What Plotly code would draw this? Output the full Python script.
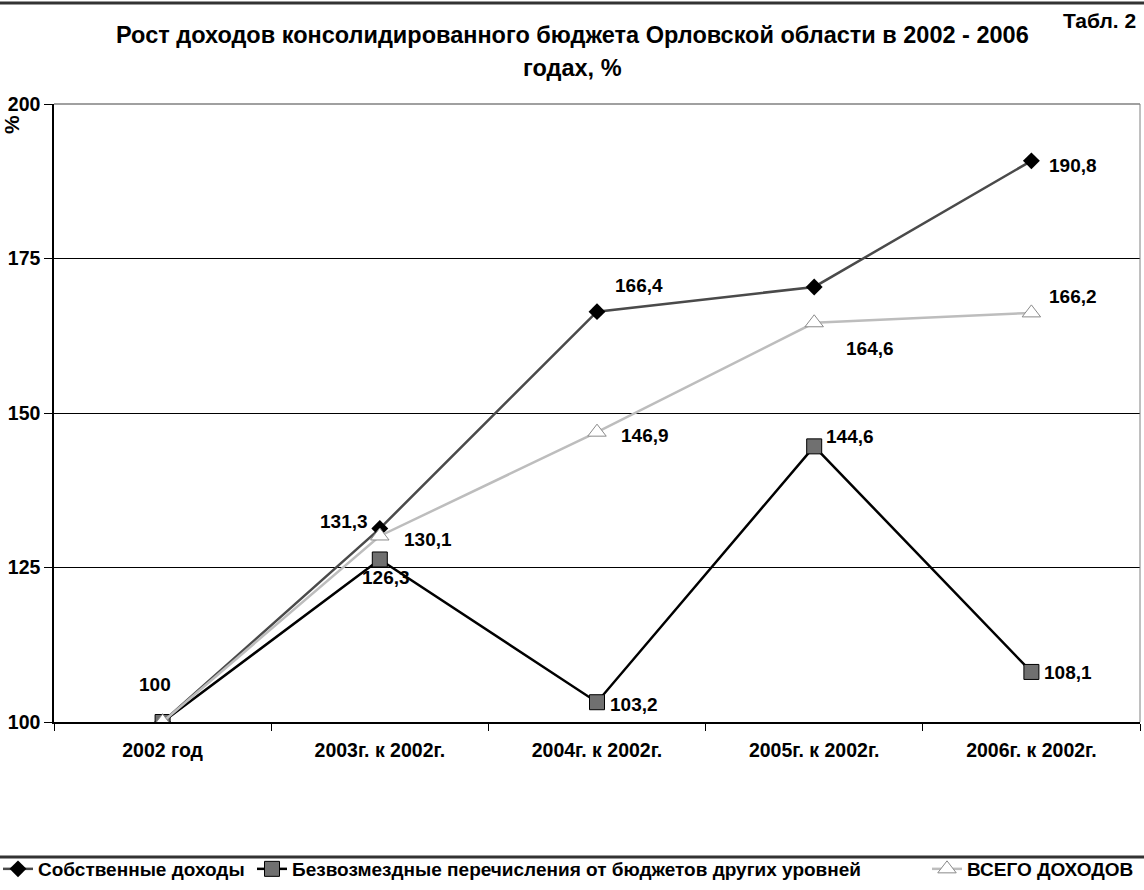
import plotly.graph_objects as go

categories = ["2002 год", "2003г. к 2002г.", "2004г. к 2002г.", "2005г. к 2002г.", "2006г. к 2002г."]
own_income = [100, 131.3, 166.4, 170.4, 190.8]
transfers = [100, 126.3, 103.2, 144.6, 108.1]
total_income = [100, 130.1, 146.9, 164.6, 166.2]
y_ticks = [100, 125, 150, 175, 200]

own_labels = ["100", "131,3", "166,4", "", "190,8"]
transfer_labels = ["", "126,3", "103,2", "144,6", "108,1"]
total_labels = ["", "130,1", "146,9", "164,6", "166,2"]

# label offsets (px): (xshift, yshift)
own_off = [(-8, 38), (-36, 7), (42, 26), (0, 0), (42, -5)]
transfer_off = [(0, 0), (6, -18), (37, -2), (36, 10), (37, -1)]
total_off = [(0, 0), (48, -4), (48, -3), (56, -26), (42, 16)]

FONT = "Liberation Sans"
W, H = 1144, 890
L, R, T, B = 54, 4, 104, 168
PW, PH = W - L - R, H - T - B


def px_x(px):
    return (px - L) / PW


def px_y(py):
    return (H - B - py) / PH


def bold(size):
    return dict(family=FONT, size=size, color="#000000", weight="bold")


fig = go.Figure()
fig.add_trace(go.Scatter(
    x=categories, y=own_income, name="Собственные доходы", mode="lines+markers",
    line=dict(color="#4a4a4a", width=2.5),
    marker=dict(symbol="diamond", size=13, color="#000000"),
    legend="legend",
))
fig.add_trace(go.Scatter(
    x=categories, y=transfers, name="Безвозмездные перечисления от бюджетов других уровней",
    mode="lines+markers",
    line=dict(color="#000000", width=2.5),
    marker=dict(symbol="square", size=15, color="#707070", line=dict(color="#000000", width=1)),
    legend="legend2",
))
fig.add_trace(go.Scatter(
    x=categories, y=total_income, name="ВСЕГО ДОХОДОВ", mode="lines+markers",
    line=dict(color="#bdbdbd", width=2.5),
    marker=dict(symbol="triangle-up", size=16, color="#ffffff", line=dict(color="#8a8a8a", width=1)),
    legend="legend3",
))

annotations = []
for vals, labs, offs in [(own_income, own_labels, own_off),
                         (transfers, transfer_labels, transfer_off),
                         (total_income, total_labels, total_off)]:
    for c, v, t, (dx, dy) in zip(categories, vals, labs, offs):
        if t:
            annotations.append(dict(x=c, y=v, xref="x", yref="y", text=t,
                                    showarrow=False, xshift=dx, yshift=dy, font=bold(19)))

annotations.append(dict(text="%", xref="paper", yref="paper", x=px_x(12), y=px_y(125),
                        xanchor="center", yanchor="middle",
                        showarrow=False, textangle=-90, font=bold(21)))
annotations.append(dict(text="Табл. 2", xref="paper", yref="paper", x=px_x(1138), y=px_y(20),
                        xanchor="right", yanchor="middle", showarrow=False, font=bold(21)))
annotations.append(dict(text="Рост доходов консолидированного бюджета Орловской области в 2002 - 2006",
                        xref="paper", yref="paper", x=px_x(572), y=px_y(35), xanchor="center",
                        yanchor="middle", showarrow=False, font=bold(23.5)))
annotations.append(dict(text="годах, %",
                        xref="paper", yref="paper", x=px_x(572), y=px_y(68), xanchor="center",
                        yanchor="middle", showarrow=False, font=bold(23.5)))

leg_common = dict(orientation="h", yanchor="middle", y=px_y(869), xanchor="left",
                  font=bold(19), bgcolor="rgba(0,0,0,0)", borderwidth=0, itemwidth=30)

fig.update_layout(
    width=W, height=H,
    margin=dict(l=L, r=R, t=T, b=B, autoexpand=False),
    paper_bgcolor="#ffffff", plot_bgcolor="#ffffff",
    font=dict(family=FONT, color="#000000"),
    showlegend=True,
    legend=dict(x=px_x(-2), **leg_common),
    legend2=dict(x=px_x(252), **leg_common),
    legend3=dict(x=px_x(927), **leg_common),
    annotations=annotations,
    shapes=[
        dict(type="line", xref="paper", yref="paper", x0=px_x(0), x1=px_x(W), y0=px_y(3), y1=px_y(3),
             line=dict(color="#333333", width=3)),
        dict(type="line", xref="paper", yref="paper", x0=px_x(0), x1=px_x(W), y0=px_y(857), y1=px_y(857),
             line=dict(color="#333333", width=3)),
        dict(type="line", xref="paper", yref="paper", x0=1, x1=1, y0=0, y1=1,
             line=dict(color="#808080", width=1)),
        dict(type="line", xref="paper", yref="paper", x0=0, x1=1, y0=1, y1=1,
             line=dict(color="#808080", width=1.5)),
    ],
)
fig.update_xaxes(
    type="category", range=[-0.5, 4.5], tickson="boundaries", ticks="outside", ticklen=7,
    tickcolor="#000000", showline=True, linecolor="#000000", linewidth=1.5, mirror=False,
    showgrid=False, tickfont=bold(19.5), automargin=False, ticklabelstandoff=10,
)
fig.update_yaxes(
    range=[100, 200], tickvals=y_ticks, ticks="outside", ticklen=8,
    tickcolor="#000000", showline=True, linecolor="#000000", linewidth=1.5,
    showgrid=True, gridcolor="#000000", gridwidth=1,
    tickfont=bold(19.5), automargin=False,
)

fig.write_html(
    "out.html",
    config={"displayModeBar": False},
    post_script="document.body.style.margin='0';document.body.style.overflow='hidden';",
)
